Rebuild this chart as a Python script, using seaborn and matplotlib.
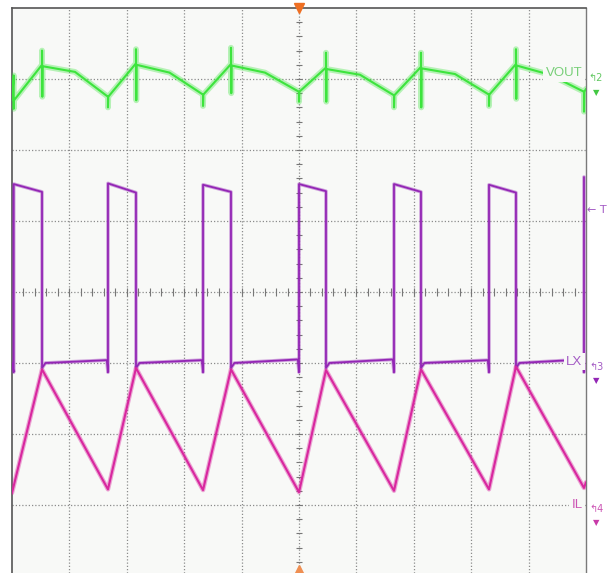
import numpy as np
import pandas as pd
import matplotlib
matplotlib.use("Agg")
import matplotlib.pyplot as plt
import seaborn as sns

# ---- data (time in divisions, amplitude in divisions) ----
rise_edges = [0.03, 1.672, 3.328, 5.000, 6.655, 8.310, 9.965]
fall_edges = [0.523, 2.160, 3.815, 5.470, 7.125, 8.780]

# LX switch node
lx_high_start = [5.52, 5.53, 5.51, 5.52, 5.52, 5.51]
lx_high_end = [5.41, 5.40, 5.41, 5.42, 5.41, 5.40]
lx_low_start = [3.00, 3.00, 3.00, 3.00, 3.00, 3.00]
lx_low_end = [3.04, 3.04, 3.05, 3.05, 3.04, 3.05]
lx_undershoot = 2.93
lx_pre_rise = 2.87
lx_final_top = 5.62

# IL inductor current
il_start = 1.17
il_peaks = [2.91, 2.93, 2.91, 2.90, 2.91, 2.95]
il_troughs = [1.22, 1.21, 1.18, 1.20, 1.22, 1.24]
il_end = 1.32

# VOUT ripple
vout_start = 6.70
vout_first_spike = [7.05, 6.58]
vout_peaks = [7.20, 7.22, 7.21, 7.16, 7.17, 7.21]
vout_mids = [7.10, 7.09, 7.09, 7.06, 7.07, 7.06]
vout_troughs = [6.75, 6.78, 6.82, 6.77, 6.78, 6.82]
vout_fall_spike_top = [7.40, 7.42, 7.44, 7.37, 7.37, 7.42]
vout_fall_spike_bot = [6.75, 6.70, 6.80, 6.68, 6.60, 6.72]
vout_rise_spike_bot = [6.60, 6.62, 6.68, 6.60, 6.62, 6.54]
vout_end = 6.86

# ---- build trace tables ----
lx_t, lx_v = [0.0, rise_edges[0]], [3.0, lx_pre_rise]
for i, f in enumerate(fall_edges):
    r = rise_edges[i]
    lx_t += [r, f, f, f + 0.06, rise_edges[i + 1] - 0.02]
    lx_v += [lx_high_start[i], lx_high_end[i], lx_undershoot, lx_low_start[i], lx_low_end[i]]
    lx_t += [rise_edges[i + 1]]
    lx_v += [lx_pre_rise]
lx_t += [rise_edges[-1]]
lx_v += [lx_final_top]
lx_df = pd.DataFrame({"t": lx_t, "v": lx_v})

il_t, il_v = [0.0], [il_start]
for i, f in enumerate(fall_edges):
    il_t += [f, rise_edges[i + 1]]
    il_v += [il_peaks[i], il_troughs[i]]
il_t += [10.0]
il_v += [il_end]
il_df = pd.DataFrame({"t": il_t, "v": il_v})

vo_t = [0.0, rise_edges[0], rise_edges[0], rise_edges[0] + 0.005]
vo_v = [vout_start, vout_first_spike[0], vout_first_spike[1], vout_start]
for i, f in enumerate(fall_edges):
    nr = rise_edges[i + 1]
    vo_t += [f, f, f + 0.005, f + 0.01, (f + nr) / 2, nr, nr, nr + 0.005]
    vo_v += [vout_peaks[i], vout_fall_spike_top[i], vout_fall_spike_bot[i], vout_peaks[i] - 0.02,
             vout_mids[i], vout_troughs[i], vout_rise_spike_bot[i], vout_troughs[i]]
vo_t += [10.0]
vo_v += [vout_end]
vo_df = pd.DataFrame({"t": vo_t, "v": vo_v})

# ---- figure ----
sns.set_style("white")
W, H = 607, 573
BG = "#f8f9f7"
fig = plt.figure(figsize=(W / 100, H / 100), dpi=100, facecolor="white")
ax = fig.add_axes([12 / W, 0, 574 / W, 565 / H])
ax.set_facecolor(BG)
ax.set_xlim(0, 10)
ax.set_ylim(0.042, 8)
ax.set_xticks([])
ax.set_yticks([])
for s in ["left", "top"]:
    ax.spines[s].set_color("#555555")
    ax.spines[s].set_linewidth(1.2)
ax.spines["right"].set_color("#7a7a7a")
ax.spines["right"].set_linewidth(1.0)
ax.spines["bottom"].set_visible(False)

grid_kw = dict(color="#8c8c8c", lw=0.9, ls=(0, (1, 1.6)), zorder=1)
for gx in range(1, 10):
    ax.axvline(gx, **grid_kw)
for gy in range(1, 8):
    ax.axhline(gy, **grid_kw)

# center minor ticks
tx = [k * 0.2 for k in range(1, 50)]
ax.vlines(tx, 4 - 0.055, 4 + 0.055, color="#777777", lw=0.8, zorder=1)
ty = [k * 0.2 for k in range(1, 40)]
ax.hlines(ty, 5 - 0.06, 5 + 0.06, color="#777777", lw=0.8, zorder=1)

# traces
green, purple, magenta = "#3de43d", "#9326b5", "#d8279f"
for df, c, wide, thin, a in [(vo_df, green, 4.2, 1.5, 0.35),
                             (lx_df, purple, 2.6, 1.3, 0.4),
                             (il_df, magenta, 3.2, 1.5, 0.4)]:
    sns.lineplot(data=df, x="t", y="v", sort=False, estimator=None, ax=ax,
                 color=c, lw=wide, alpha=a, zorder=3)
    sns.lineplot(data=df, x="t", y="v", sort=False, estimator=None, ax=ax,
                 color=c, lw=thin, alpha=1.0, zorder=4)
ax.set_xlabel("")
ax.set_ylabel("")

# labels
lab_box = dict(boxstyle="square,pad=0.2", fc=BG, ec="none")
ax.text(9.94, 7.08, "VOUT", color="#78cf78", fontsize=9.5, ha="right", va="center",
        family="Liberation Sans", bbox=lab_box, zorder=6)
ax.text(9.94, 3.02, "LX", color="#a35ac4", fontsize=9.5, ha="right", va="center",
        family="Liberation Sans", bbox=lab_box, zorder=6)
ax.text(9.94, 1.0, "IL", color="#cc55b4", fontsize=9.5, ha="right", va="center",
        family="Liberation Sans", bbox=lab_box, zorder=6)

# right-side channel markers (figure pixel coords)
def fig_text(px, py, s, color, size, **kw):
    fig.text(px / W, 1 - py / H, s, color=color, fontsize=size, ha="center", va="center", **kw)

fig_text(596, 78, "↰2", "#62c862", 7)
fig_text(596, 93, "▼", "#43c843", 6)
fig_text(596, 367, "↰3", "#a35ac4", 7)
fig_text(596, 381, "▼", "#9326b5", 6)
fig_text(596, 509, "↰4", "#cc55b4", 7)
fig_text(596, 523, "▼", "#c83aa8", 6)
fig_text(597, 210, "← T", "#a35ac4", 8)

# trigger position markers
ax.plot([5], [8], marker="v", color="#ef6f22", ms=7, clip_on=False, zorder=7)
ax.plot([5], [0.1], marker="^", color="#ef8f52", ms=6, clip_on=False, zorder=7)

fig.savefig("out.png", dpi=100, facecolor="white")
